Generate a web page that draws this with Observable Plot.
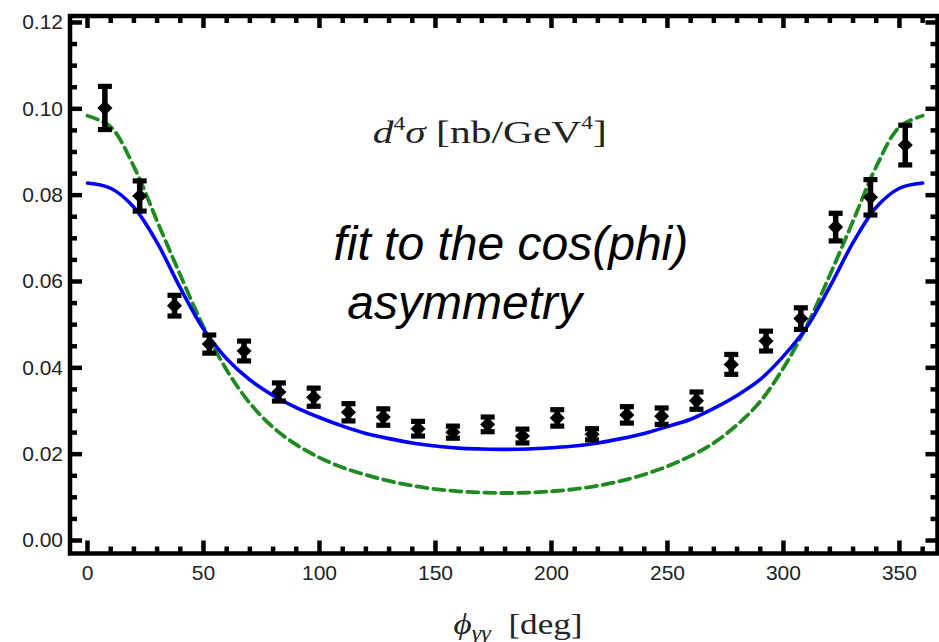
<!DOCTYPE html>
<html>
<head>
<meta charset="utf-8">
<script src="https://cdn.jsdelivr.net/npm/d3@7"></script>
<script src="https://cdn.jsdelivr.net/npm/@observablehq/plot@0.6"></script>
<style>
  html, body { margin: 0; padding: 0; background: #fff; }
  svg { display: block; }
</style>
</head>
<body>
<div id="chart"></div>
<script>
// Measured cross section in bins of the azimuthal angle (deg)
const phi = [7.5, 22.5, 37.5, 52.5, 67.5, 82.5, 97.5, 112.5, 127.5, 142.5, 157.5, 172.5,
             187.5, 202.5, 217.5, 232.5, 247.5, 262.5, 277.5, 292.5, 307.5, 322.5, 337.5, 352.5];
const sigma = [0.1002, 0.0798, 0.0544, 0.0455, 0.0439, 0.0344, 0.0332, 0.0297, 0.0286, 0.0259, 0.0251, 0.0269,
               0.0242, 0.0284, 0.0246, 0.0291, 0.0288, 0.0324, 0.0408, 0.0462, 0.0514, 0.0726, 0.0795, 0.0916];
const sigmaErr = [0.0050, 0.0035, 0.0024, 0.0021, 0.0023, 0.0021, 0.0021, 0.0020, 0.0019, 0.0017, 0.0014, 0.0017,
                  0.0016, 0.0019, 0.0013, 0.0019, 0.0019, 0.0020, 0.0023, 0.0023, 0.0025, 0.0032, 0.0041, 0.0046];

// Model curves sampled every 10 deg
const curveAngle = [0, 10, 20, 30, 40, 50, 60, 70, 80, 90, 100, 110, 120, 130, 140, 150, 160, 170, 180,
                    190, 200, 210, 220, 230, 240, 250, 260, 270, 280, 290, 300, 310, 320, 330, 340, 350, 360];
const fitBlue = [0.0828, 0.0816, 0.0772, 0.0690, 0.0585, 0.0490, 0.0421, 0.0372, 0.0336, 0.0308, 0.0285, 0.0265,
                 0.0248, 0.0236, 0.0226, 0.0219, 0.0214, 0.0212, 0.0211, 0.0212, 0.0215, 0.0219, 0.0226, 0.0236,
                 0.0248, 0.0264, 0.0281, 0.0306, 0.0336, 0.0373, 0.0427, 0.0494, 0.0588, 0.0690, 0.0772, 0.0816, 0.0828];
const fitGreen = [0.0984, 0.0958, 0.0866, 0.0740, 0.0615, 0.0495, 0.0395, 0.0318, 0.0262, 0.0222, 0.0192, 0.0169,
                  0.0152, 0.0138, 0.0127, 0.0119, 0.0114, 0.0111, 0.0110, 0.0111, 0.0114, 0.0119, 0.0127, 0.0138,
                  0.0153, 0.0172, 0.0196, 0.0226, 0.0268, 0.0322, 0.0400, 0.0497, 0.0615, 0.0740, 0.0866, 0.0958, 0.0984];

// Ticks and their labels
const xMajorTicks = [0, 50, 100, 150, 200, 250, 300, 350];
const xTickLabels = ["0", "50", "100", "150", "200", "250", "300", "350"];
const xMinorTicks = [10, 20, 30, 40, 60, 70, 80, 90, 110, 120, 130, 140, 160, 170, 180, 190,
                     210, 220, 230, 240, 260, 270, 280, 290, 310, 320, 330, 340, 360];
const yMajorTicks = [0, 0.02, 0.04, 0.06, 0.08, 0.10, 0.12];
const yTickLabels = ["0.00", "0.02", "0.04", "0.06", "0.08", "0.10", "0.12"];
const yMinorTicks = [0.005, 0.01, 0.015, 0.025, 0.03, 0.035, 0.045, 0.05, 0.055, 0.065, 0.07, 0.075,
                     0.085, 0.09, 0.095, 0.105, 0.11, 0.115];

// Annotations (anchored in data coordinates)
const unitNote = [{x: 123, y: 0.092, text: "d4σ [nb/GeV4]"}];
const fitNotes = [
  {x: 106, y: 0.0649, text: "fit to the cos(phi)"},
  {x: 112, y: 0.0514, text: "asymmetry"}
];
const axisTitle = [{x: 157.8, text: "ϕγγ [deg]"}];

const points = phi.map((p, i) => ({phi: p, v: sigma[i], e: sigmaErr[i]}));
const blue = curveAngle.map((a, i) => ({a, v: fitBlue[i]}));
const green = curveAngle.map((a, i) => ({a, v: fitGreen[i]}));

const SANS = "'Liberation Sans', Arial, Helvetica, sans-serif";
const SERIF = "'Liberation Serif', 'Times New Roman', 'DejaVu Serif', serif";

// Rectangle-shaped symbols for inward frame ticks and error-bar caps
const rect = (x, y, w, h) => ({draw(ctx) { ctx.rect(x, y, w, h); }});
const T = 4.5;
const tickMarks = (ticks, anchor, len) => {
  const sym = anchor === "left" ? rect(0, -T / 2, len, T)
            : anchor === "right" ? rect(-len, -T / 2, len, T)
            : anchor === "top" ? rect(-T / 2, 0, T, len)
            : rect(-T / 2, -len, T, len);
  const horizontal = anchor === "left" || anchor === "right";
  return Plot.dot(ticks, {
    [horizontal ? "y" : "x"]: d => d,
    frameAnchor: anchor, symbol: sym, fill: "black", stroke: "none"
  });
};
const cap = rect(-7, -2.6, 14, 5.2);

const chart = Plot.plot({
  width: 939,
  height: 642,
  marginLeft: 69.5,
  marginRight: 2,
  marginTop: 15.5,
  marginBottom: 89,
  style: {fontFamily: SANS, color: "#222", background: "#fff"},
  x: {domain: [-7.54, 366.4]},
  y: {domain: [-0.00301, 0.1215]},
  marks: [
    Plot.line(green, {x: "a", y: "v", stroke: "#1f8a1f", strokeWidth: 3.8, strokeDasharray: "11,6", curve: "catmull-rom"}),
    Plot.line(blue, {x: "a", y: "v", stroke: "#0000ff", strokeWidth: 3.6, curve: "catmull-rom"}),
    Plot.ruleX(points, {x: "phi", y1: d => d.v - d.e, y2: d => d.v + d.e, stroke: "black", strokeWidth: 5.5}),
    Plot.dot(points, {x: "phi", y: d => d.v + d.e, symbol: cap, fill: "black", stroke: "none"}),
    Plot.dot(points, {x: "phi", y: d => d.v - d.e, symbol: cap, fill: "black", stroke: "none"}),
    Plot.dot(points, {x: "phi", y: "v", symbol: "diamond2", r: 6.8, fill: "black", stroke: "none"}),
    Plot.frame({stroke: "black", strokeWidth: 4.5}),
    tickMarks(yMajorTicks, "left", 12),
    tickMarks(yMinorTicks, "left", 7),
    tickMarks(yMajorTicks, "right", 12),
    tickMarks(yMinorTicks, "right", 7),
    tickMarks(xMajorTicks, "bottom", 13),
    tickMarks(xMinorTicks, "bottom", 7),
    tickMarks(xMajorTicks, "top", 12),
    tickMarks(xMinorTicks, "top", 7),
    Plot.axisY(yMajorTicks, {anchor: "left", tickSize: 0, tickPadding: 7, fontSize: 21, label: null,
      tickFormat: d => yTickLabels[yMajorTicks.indexOf(d)]}),
    Plot.axisX(xMajorTicks, {anchor: "bottom", tickSize: 0, tickPadding: 12, fontSize: 21, label: null,
      tickFormat: d => xTickLabels[xMajorTicks.indexOf(d)]}),
    Plot.text(unitNote, {x: "x", y: "y", text: "text", textAnchor: "start", lineAnchor: "bottom",
      fontFamily: SERIF, fontSize: 32, fill: "#222"}),
    Plot.text(fitNotes, {x: "x", y: "y", text: "text", textAnchor: "start", lineAnchor: "bottom",
      fontFamily: SANS, fontSize: 48, fontStyle: "italic", fill: "black"}),
    Plot.text(axisTitle, {x: "x", text: "text", frameAnchor: "bottom", dy: 80, textAnchor: "start", lineAnchor: "bottom",
      fontFamily: SERIF, fontSize: 29, fill: "#222"})
  ]
});

// Rich text: italics, superscripts and subscripts as tspans
function richText(node, parts, length) {
  const t = d3.select(node);
  t.text(null);
  for (const p of parts) {
    const s = t.append("tspan").text(p.t);
    if (p.italic) s.attr("font-style", "italic");
    if (p.size) s.attr("font-size", p.size);
    if (p.dy) s.attr("dy", p.dy);
  }
  if (length) t.attr("textLength", length).attr("lengthAdjust", "spacingAndGlyphs");
}
const findText = content => d3.select(chart).selectAll("text").filter(function() {
  return this.textContent === content;
});

findText(unitNote[0].text).each(function() {
  richText(this, [
    {t: "d", italic: true},
    {t: "4", size: 18, dy: -13},
    {t: "σ", italic: true, dy: 13},
    {t: " [nb/GeV"},
    {t: "4", size: 18, dy: -14},
    {t: "]", dy: 14}
  ], 234);
});
findText(axisTitle[0].text).each(function() {
  richText(this, [
    {t: "ϕ", italic: true},
    {t: "γγ", italic: true, size: 20, dy: 6},
    {t: "  [deg]", dy: -6}
  ], 129);
});

document.getElementById("chart").append(chart);
</script>
</body>
</html>
